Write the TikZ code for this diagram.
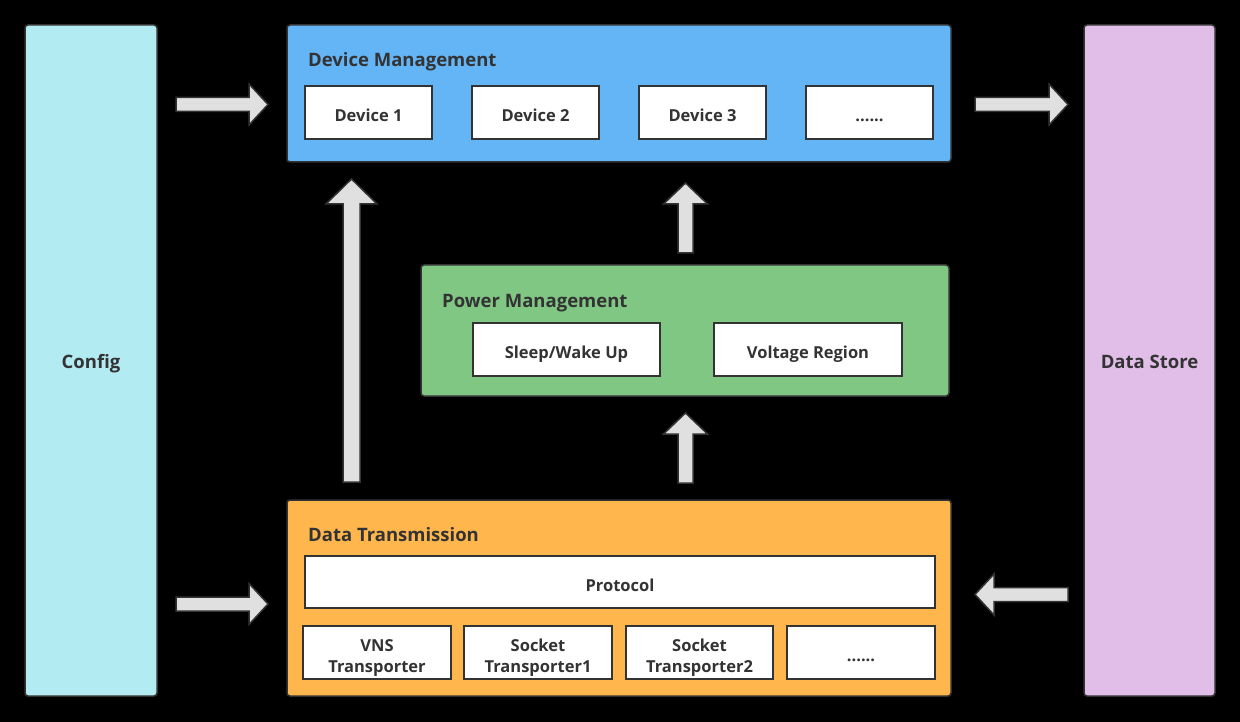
\documentclass[tikz,border=0pt]{standalone}
\usepackage{fontspec}
\setmainfont{Open Sans}
\usetikzlibrary{calc}
\definecolor{ink}{HTML}{333333}
\definecolor{cfgc}{HTML}{B2EBF2}
\definecolor{storec}{HTML}{E1BEE7}
\definecolor{dmc}{HTML}{64B5F6}
\definecolor{pmc}{HTML}{81C784}
\definecolor{dtc}{HTML}{FFB74D}
\definecolor{arrc}{HTML}{E0E0E0}
\newcommand\blockarrow[5]{%
  \coordinate (ba-h) at ($(#5)!#3pt!(#4)$);
  \draw[barrow] ($(#4)!#1pt!90:(#5)$) -- ($(ba-h)!#1pt!90:(#5)$) -- ($(ba-h)!#2pt!90:(#5)$)
    -- (#5) -- ($(ba-h)!#2pt!-90:(#5)$) -- ($(ba-h)!#1pt!-90:(#5)$) -- ($(#4)!#1pt!-90:(#5)$) -- cycle;}
\tikzset{
  panel/.style={draw=ink, line width=1.5pt, rounded corners=3pt, inner sep=0pt,
    text height=16pt, text depth=0pt,
    font=\fontsize{18.5}{22}\selectfont\bfseries, text=ink},
  subbox/.style={draw=ink, fill=white, line width=1.5pt, inner sep=0pt, align=center,
    text height=18pt, text depth=0pt,
    font=\fontsize{16.5}{21}\selectfont\bfseries, text=ink},
  twoline/.style={text height=39pt, text depth=0pt},
  title/.style={anchor=base west, inner sep=0pt, font=\fontsize{18.5}{22}\selectfont\bfseries, text=ink},
  barrow/.style={fill=arrc, draw=ink, line width=1.5pt, line join=miter}
}
\begin{document}
\begin{tikzpicture}[x=1pt, y=-1pt]
\fill[black] (0,0) rectangle (1240,722);
\useasboundingbox (0,0) rectangle (1240,722);
% side panels
\node[panel, fill=cfgc, minimum width=132pt, minimum height=671pt] (config) at (91,360.5) {Config};
\node[panel, fill=storec, minimum width=131pt, minimum height=671pt] (store) at (1149.5,360.5) {Data Store};
% device management
\node[panel, fill=dmc, minimum width=664pt, minimum height=137pt] (dm) at (619,93.5) {};
\node[title] (dmt) at (308,67) {Device Management};
\node[subbox, minimum width=127pt, minimum height=53pt] (d1) at (368.5,112.5) {Device 1};
\node[subbox, minimum width=127pt, minimum height=53pt] (d2) at (535.5,112.5) {Device 2};
\node[subbox, minimum width=127pt, minimum height=53pt] (d3) at (702.5,112.5) {Device 3};
\node[subbox, minimum width=127pt, minimum height=53pt] (d4) at (869.5,112.5) {......};
% power management
\node[panel, fill=pmc, minimum width=528pt, minimum height=131pt] (pm) at (685,330.5) {};
\node[title] (pmt) at (442,307) {Power Management};
\node[subbox, minimum width=187pt, minimum height=53pt] (sleep) at (566.5,349.5) {Sleep/Wake Up};
\node[subbox, minimum width=188pt, minimum height=53pt] (volt) at (808,349.5) {Voltage Region};
% data transmission
\node[panel, fill=dtc, minimum width=664pt, minimum height=196pt] (dt) at (619,598) {};
\node[title] (dtt) at (308,541) {Data Transmission};
\node[subbox, minimum width=630pt, minimum height=52pt] (proto) at (620,582) {Protocol};
\node[subbox, twoline, minimum width=148pt, minimum height=53pt] (t1) at (377,652.5) {VNS\\Transporter};
\node[subbox, twoline, minimum width=148pt, minimum height=53pt] (t2) at (538,652.5) {Socket\\Transporter1};
\node[subbox, twoline, minimum width=147pt, minimum height=53pt] (t3) at (699.5,652.5) {Socket\\Transporter2};
\node[subbox, minimum width=148pt, minimum height=53pt] (t4) at (861,652.5) {......};
% arrow end points
\coordinate (a1s) at (176,104.5);  \coordinate (a1e) at (268,104.5);
\coordinate (a2s) at (975,104.5);  \coordinate (a2e) at (1068,104.5);
\coordinate (a3s) at (176,604);    \coordinate (a3e) at (268,604);
\coordinate (a4s) at (1068,594.5); \coordinate (a4e) at (975,594.5);
\coordinate (a5s) at (351.5,482);  \coordinate (a5e) at (351.5,179);
\coordinate (a6s) at (685.5,253);  \coordinate (a6e) at (685.5,183);
\coordinate (a7s) at (685.5,483);  \coordinate (a7e) at (685.5,413);
\blockarrow{7}{20.5}{19}{a1s}{a1e}
\blockarrow{7}{20.5}{19}{a2s}{a2e}
\blockarrow{7}{20.5}{19}{a3s}{a3e}
\blockarrow{7}{20.5}{19}{a4s}{a4e}
\blockarrow{8.5}{25.5}{25}{a5s}{a5e}
\blockarrow{7.5}{22}{21}{a6s}{a6e}
\blockarrow{7.5}{22}{21}{a7s}{a7e}
\end{tikzpicture}
\end{document}
